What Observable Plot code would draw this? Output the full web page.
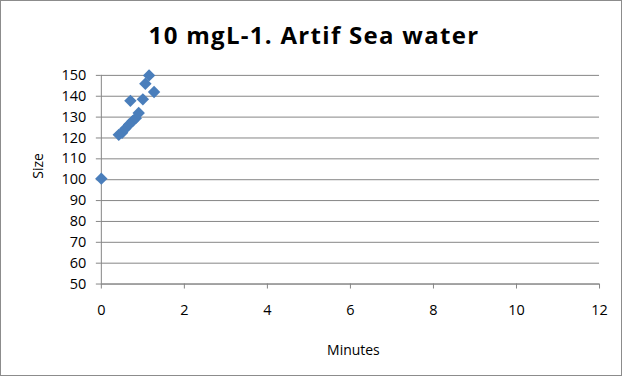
<!DOCTYPE html>
<html><head><meta charset="utf-8">
<script src="https://cdn.jsdelivr.net/npm/d3@7"></script>
<script src="https://cdn.jsdelivr.net/npm/@observablehq/plot@0.6"></script>
<style>
body{margin:0;background:#fff;}
#wrap{position:relative;width:620px;height:374px;border:1px solid #8c8c8c;overflow:hidden;font-family:"Open Sans",sans-serif;}
#title{position:absolute;left:6px;right:0;top:17px;text-align:center;font-weight:bold;font-size:24px;letter-spacing:1.3px;color:#000;line-height:normal;}
#chart{position:absolute;left:-1px;top:-1px;}
</style></head><body>
<div id="wrap"><div id="title">10 mgL-1. Artif Sea water</div><div id="chart"></div></div>
<script>
const minutes = [0, 0.42, 0.5, 0.58, 0.67, 0.75, 0.83, 0.9, 0.7, 1.0, 1.06, 1.15, 1.27];
const size    = [100.5, 121.5, 122.5, 124.5, 126.5, 128, 129.5, 132, 137.8, 138.5, 146, 150, 142];
const xTicks = [0, 2, 4, 6, 8, 10, 12];
const yTicks = [50, 60, 70, 80, 90, 100, 110, 120, 130, 140, 150];
const data = minutes.map((m, i) => ({m, s: size[i]}));
const gray = "#868686";
const plot = Plot.plot({
  width: 622, height: 376,
  marginLeft: 101, marginRight: 22, marginTop: 75, marginBottom: 92,
  style: {fontFamily: "'Open Sans', sans-serif", fontSize: "14px", color: "#000", background: "transparent"},
  x: {domain: [0, 12], ticks: xTicks, label: null},
  y: {domain: [50, 150], ticks: yTicks, label: null},
  marks: [
    Plot.gridY(yTicks, {stroke: gray, strokeOpacity: 1, strokeWidth: 1}),
    Plot.ruleY([50], {stroke: gray}),
    Plot.ruleX([0], {stroke: gray}),
    Plot.axisX({ticks: xTicks, tickSize: 5, tickPadding: 16, stroke: gray, fontSize: 14.5}),
    Plot.axisY({ticks: yTicks, tickSize: 5, tickPadding: 10, stroke: gray, fontSize: 14.5}),
    Plot.text(["Minutes"], {frameAnchor: "bottom", dy: 71, dx: 3, fontSize: 14}),
    Plot.text(["Size"], {frameAnchor: "left", dx: -63, dy: -1, rotate: -90, fontSize: 14}),
    Plot.dot(data, {x: "m", y: "s", symbol: "diamond2", r: 5.6, fill: "#4A7EBB", stroke: "none"})
  ]
});
document.getElementById("chart").appendChild(plot);
</script>
</body></html>
